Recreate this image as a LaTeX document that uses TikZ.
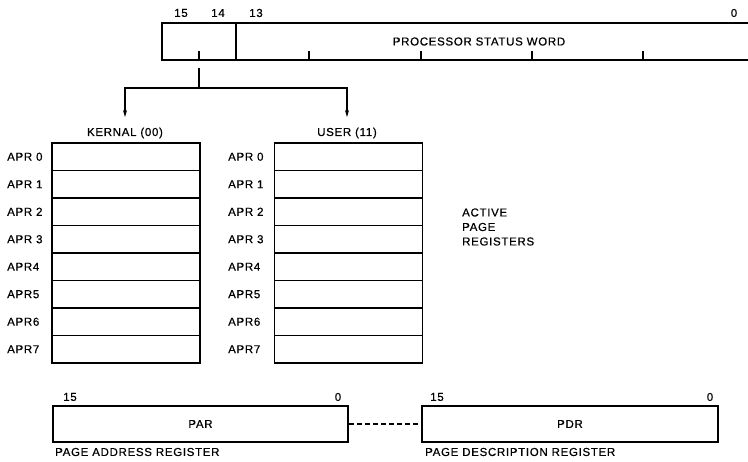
\documentclass[tikz,border=0pt]{standalone}
\usepackage{fontspec}
\setmainfont{Liberation Sans}[LetterSpace=6, FakeBold=0.6]
\usetikzlibrary{arrows.meta, positioning}

\begin{document}
\begin{tikzpicture}[
        x=1pt, y=-1pt,
        every node/.style={font=\fontsize{11.5}{14.5}\selectfont},
        box/.style={rectangle, draw, line width=1.5pt, inner sep=0pt},
        apr/.style={box, minimum width=148pt, minimum height=27.5pt},
        lbl/.style={anchor=west, inner sep=0pt},
        arr/.style={-{Stealth[length=7pt, width=4pt]}, line width=1.1pt},
    ]
        \useasboundingbox (0,0) rectangle (748,462);

        \node[box, minimum width=634pt, minimum height=37pt] (psw) at (479,41.5) {PROCESSOR STATUS WORD};
        \draw[line width=1.3pt] (236,23) -- (236,60);
        \foreach \t in {199,309,421,532,643}
            \draw[line width=1.5pt] (\t,51) -- (\t,60);
        \node (b15) at (181,13) {15};
        \node (b14) at (218,13) {14};
        \node (b13) at (256,13) {13};
        \node (b0) at (734,13) {0};

        \node (klbl) at (125,133) {KERNAL (00)};
        \node (ulbl) at (347,133) {USER (11)};
        \foreach \i/\t in {0/APR 0,1/APR 1,2/APR 2,3/APR 3,4/APR4,5/APR5,6/APR6,7/APR7} {
            \node[apr] (k\i) at (126,{156.75+27.5*\i}) {};
            \node[apr] (u\i) at (348.5,{156.75+27.5*\i}) {};
            \node[lbl] (kn\i) at (7,{156.75+27.5*\i}) {\t};
            \node[lbl] (un\i) at (228,{156.75+27.5*\i}) {\t};
        }
        \node[lbl, align=left] (apr) at (462,227) {ACTIVE\\PAGE\\REGISTERS};

        \coordinate (tap) at (199,68);
        \coordinate (split) at (199,88);
        \draw[line width=1.1pt] (tap) -- (split);
        \draw[arr, shorten >=7pt] (split) -| (klbl);
        \draw[arr, shorten >=7pt] (split) -| (ulbl);

        \node[box, minimum width=295pt, minimum height=36pt] (par) at (200.5,424) {PAR};
        \node[box, minimum width=296pt, minimum height=36pt] (pdr) at (570,424) {PDR};
        \draw[line width=1.1pt, dash pattern=on 5pt off 3pt] (par) -- (pdr);
        \node (parhi) at (70,397) {15};
        \node (parlo) at (338,397) {0};
        \node (pdrhi) at (437,397) {15};
        \node (pdrlo) at (710,397) {0};
        \node[lbl] (parname) at (55,452) {PAGE ADDRESS REGISTER};
        \node[lbl] (pdrname) at (425,452) {PAGE DESCRIPTION REGISTER};
    \end{tikzpicture}
\end{document}
